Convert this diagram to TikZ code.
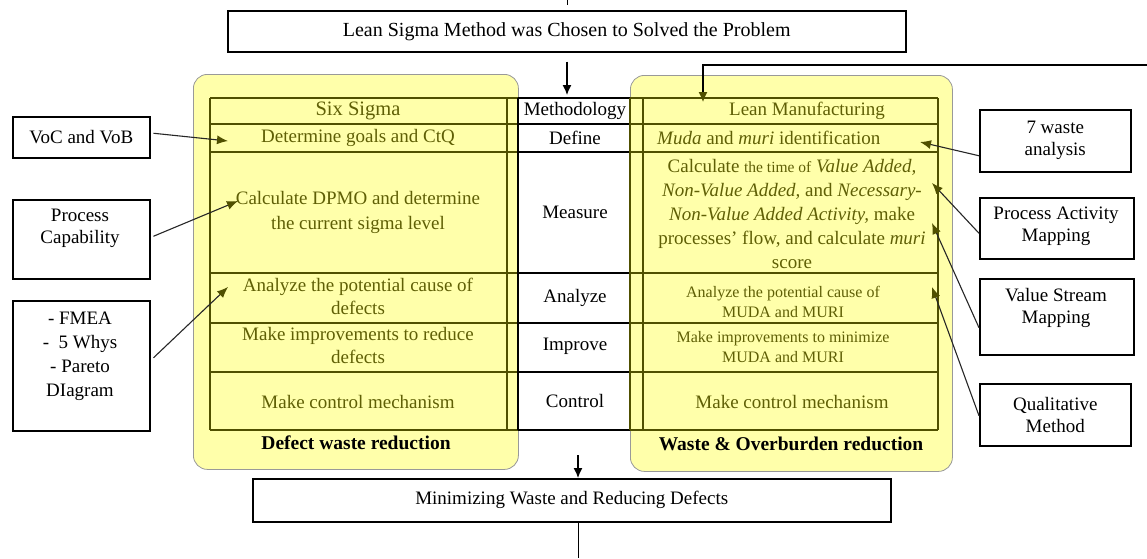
\documentclass[tikz,border=0pt]{standalone}
\usepackage{fontspec}
\setmainfont{Liberation Serif}
\usetikzlibrary{arrows.meta,calc}
\definecolor{lemon}{RGB}{255,255,170}
\definecolor{oliveline}{RGB}{80,80,0}
\definecolor{olivetxt}{RGB}{95,95,5}
\begin{document}
\begin{tikzpicture}[x=1pt,y=-1pt,
  wbox/.style={draw=black,line width=1.5pt,fill=white,inner sep=0pt,anchor=north west,align=center},
  rbox/.style={draw=gray!80,line width=0.8pt,fill=lemon,rounded corners=14pt,inner sep=0pt,anchor=north west},
  cellL/.style={text=olivetxt,align=center,inner sep=0pt,font=\fontsize{19}{23}\selectfont},
  cellS/.style={text=olivetxt,align=center,inner sep=0pt,font=\fontsize{16}{20}\selectfont},
  cellM/.style={text=black,align=center,inner sep=0pt,font=\fontsize{19}{23}\selectfont},
  boldlab/.style={text=black,inner sep=0pt,font=\fontsize{19.5}{23}\selectfont\bfseries},
  tline/.style={draw=oliveline,line width=1.5pt},
  mline/.style={draw=black,line width=1.5pt},
  conn/.style={draw=black!85,line width=1.1pt,-{Latex[length=11pt,width=9pt,color=oliveline]}},
  flow/.style={draw=black,line width=1.3pt,-{Latex[length=10pt,width=9pt]}},
  plain/.style={draw=black,line width=1pt},
  sidefont/.style={font=\fontsize{19}{22}\selectfont}
]
\useasboundingbox (0,0) rectangle (1147,558);

% rounded panels
\node[rbox,minimum width=325,minimum height=395] (lpanel) at (193,74) {};
\node[rbox,minimum width=322,minimum height=396] (rpanel) at (630,75) {};

% table lines
\foreach \yy in {98,124,152,273,323,372,430} {
  \draw[tline] (210,\yy) -- (518,\yy);
  \draw[mline] (518,\yy) -- (630,\yy);
  \draw[tline] (630,\yy) -- (938,\yy);
}
\foreach \xx in {210,507,643,938} { \draw[tline] (\xx,98) -- (\xx,430); }
\draw[mline] (518,98) -- (518,430);
\draw[tline] (630,98) -- (630,430);

% left column texts
\node[cellL,font=\fontsize{20.5}{24}\selectfont] (ss) at (358,111) {Six Sigma};
\node[cellL] (ldef) at (358,138) {Determine goals and CtQ};
\node[cellL,font=\fontsize{19}{25}\selectfont] (lmea) at (358,212) {Calculate DPMO and determine\\the current sigma level};
\node[cellL] (lana) at (358,296) {Analyze the potential cause of\\defects};
\node[cellL] (limp) at (358,345) {Make improvements to reduce\\defects};
\node[cellL] (lcon) at (358,402) {Make control mechanism};
\node[boldlab] (lbold) at (356,443) {Defect waste reduction};

% middle column
\node[cellM] (mh) at (575,111) {Methodology};
\node[cellM] (md) at (575,138) {Define};
\node[cellM] (mm) at (575,212) {Measure};
\node[cellM] (ma) at (575,298) {Analyze};
\node[cellM] (mi) at (575,346) {Improve};
\node[cellM] (mc) at (575,401) {Control};

% right column
\node[cellL] (lm) at (807,111) {Lean Manufacturing};
\node[cellL,anchor=west] (rdef) at (657,138) {\textit{Muda} and \textit{muri} identification};
\node[cellL,font=\fontsize{19}{24}\selectfont] (rmea) at (792,214) {Calculate {\fontsize{15.5}{24}\selectfont the time of} \textit{Value Added,}\\\textit{Non-Value Added,} and \textit{Necessary-}\\\textit{Non-Value Added Activity,} make\\processes' flow, and calculate \textit{muri}\\score};
\node[cellS] (rana) at (783,302) {Analyze the potential cause of\\MUDA and MURI};
\node[cellS] (rimp) at (783,347) {Make improvements to minimize\\MUDA and MURI};
\node[cellL] (rcon) at (792,402) {Make control mechanism};
\node[boldlab] (rbold) at (791,444) {Waste \& Overburden reduction};

% top and bottom boxes
\node[wbox,minimum width=678,minimum height=41,font=\fontsize{20}{24}\selectfont] (top) at (227,10) {Lean Sigma Method was Chosen to Solved the Problem};
\node[wbox,minimum width=638,minimum height=43,font=\fontsize{19}{24}\selectfont] (bot) at (252,478) {Minimizing Waste and Reducing Defects};

% left boxes
\node[wbox,minimum width=137,minimum height=41,sidefont] (voc) at (12,116) {VoC and VoB};
\node[wbox,minimum width=137,minimum height=79] (pc) at (12,199) {};
\node[sidefont,align=center,inner sep=0pt] (pct) at (80,228) {Process\\Capability};
\node[wbox,minimum width=137,minimum height=130] (fm) at (12,300) {};
\node[sidefont,align=center,inner sep=0pt,font=\fontsize{19}{24}\selectfont] (fmt) at (80,356) {- FMEA\\-\ \ 5 Whys\\- Pareto\\DIagram};

% right boxes
\node[wbox,minimum width=151,minimum height=62,sidefont] (w7) at (979,109) {7 waste\\analysis};
\node[wbox,minimum width=154,minimum height=61] (pam) at (979,197) {};
\node[sidefont,align=center,inner sep=0pt] (pamt) at (1056,226) {Process Activity\\Mapping};
\node[wbox,minimum width=154,minimum height=76] (vsm) at (979,278) {};
\node[sidefont,align=center,inner sep=0pt] (vsmt) at (1056,308) {Value Stream\\Mapping};
\node[wbox,minimum width=151,minimum height=62,sidefont] (qm) at (979,383) {Qualitative\\Method};

% target coordinates
\coordinate (tvoc) at (228,141);
\coordinate (tpc) at (238,201);
\coordinate (tfm) at (228,287);
\coordinate (tw7) at (920,142);
\coordinate (tpam) at (932,183);
\coordinate (tvsm) at (932,223);
\coordinate (tqm) at (932,287);
\coordinate (tick) at (567,0);
\coordinate (mtop) at (567,95);
\coordinate (tr) at (1147,65);
\coordinate (lmin) at (703,102);
\coordinate (mstart) at (578,455);
\coordinate (bend) at (578,558);

% connectors
\draw[conn] ($(voc.east)+(3,-4)$) -- (tvoc);
\draw[conn] ($(pc.east)+(3,-3)$) -- (tpc);
\draw[conn] ($(fm.east)+(3,-8)$) -- (tfm);
\draw[conn] ($(w7.west)+(0,15)$) -- (tw7);
\draw[conn] ($(pam.west)+(0,5)$) -- (tpam);
\draw[conn] ($(vsm.west)+(0,11)$) -- (tvsm);
\draw[conn] ($(qm.west)+(0,1)$) -- (tqm);

\draw[plain] (tick) -- ++(0,5);
\draw[flow] ($(top.south -| mtop)+(0,9)$) -- (mtop);
\draw[draw=black,line width=1.3pt,-{Latex[length=10pt,width=9pt,color=oliveline]}] (tr) -| (lmin);
\draw[flow] (mstart) -- (bot.north -| mstart);
\draw[plain] (bot.south -| bend) -- (bend);
\end{tikzpicture}
\end{document}
